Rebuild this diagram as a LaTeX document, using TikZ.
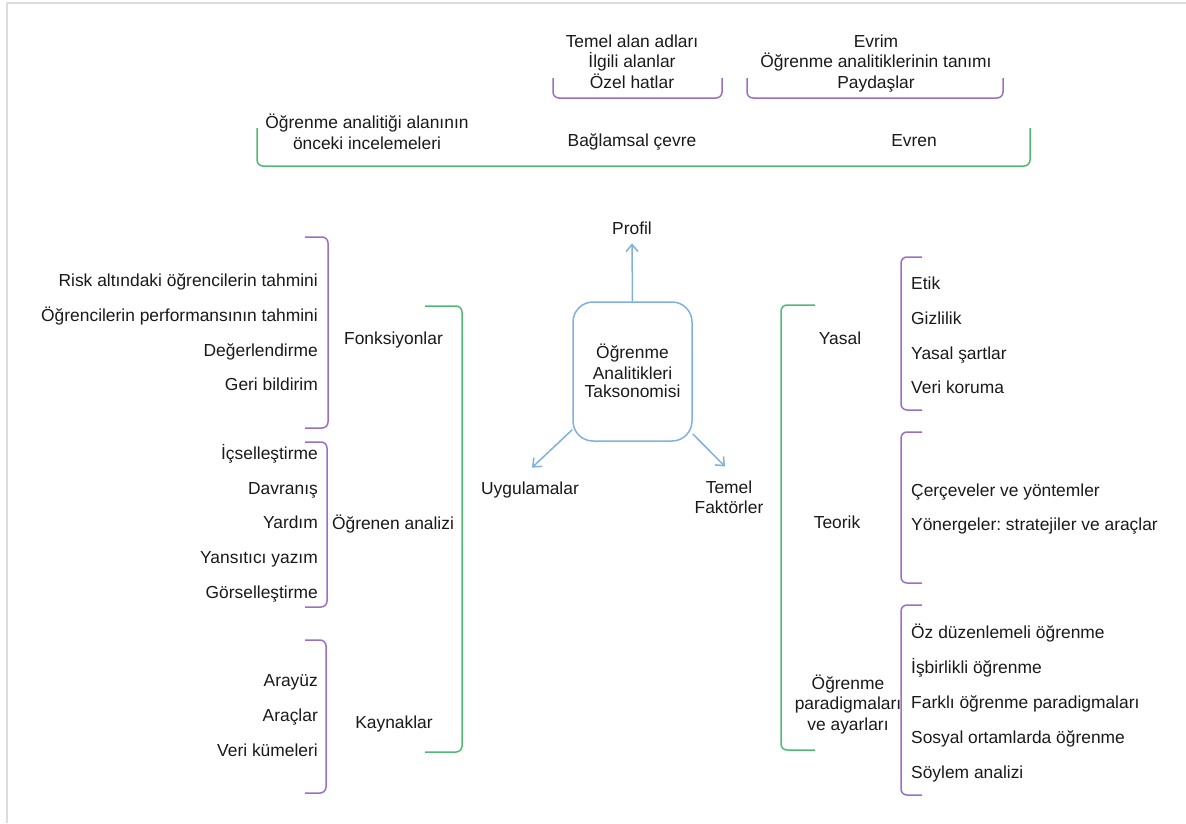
\documentclass[tikz,border=0pt]{standalone}
\usepackage{fontspec}
\setmainfont{Liberation Sans}
\usetikzlibrary{arrows.meta,calc}
\frenchspacing
\definecolor{ink}{HTML}{1A1A1A}
\definecolor{purp}{HTML}{9A70C4}
\definecolor{grn}{HTML}{4DBB74}
\definecolor{blu}{HTML}{7FB0E0}
\definecolor{frame}{HTML}{DCDCDC}
\newcommand\labelfont{\fontsize{17.4}{20.5}\selectfont}
\tikzset{
  txt/.style={font=\labelfont, text=ink, inner sep=0pt, text height=12.4pt, text depth=0pt},
  multi/.style={font=\labelfont, text=ink, inner sep=0pt, align=center},
  pbr/.style={draw=purp, line width=1.5pt, rounded corners=6pt},
  gbr/.style={draw=grn, line width=1.5pt, rounded corners=6pt},
  link/.style={draw=blu, line width=1.5pt, -{Straight Barb[length=7pt,width=12pt]}},
  corebox/.style={draw=blu, line width=1.5pt, rounded corners=20pt, inner sep=0pt,
    minimum width=119pt, minimum height=139pt, align=center, font=\fontsize{17.4}{20}\selectfont, text=ink},
}
\begin{document}
\begin{tikzpicture}[x=1pt, y=-1pt]
\useasboundingbox (0,0) rectangle (1186,823);
\fill[white] (0,0) rectangle (1186,823);
% outer frame
\draw[frame, line width=2pt] (7,823) -- (7,3) -- (1186,3);

% ---------- top: context ----------
\node[multi] (names) at (632,61.3) {Temel alan adları\\İlgili alanlar\\Özel hatlar};
\node[multi] (evol) at (876,63.2) {Evrim\\Öğrenme analitiklerinin tanımı\\Paydaşlar};
\draw[pbr] (553,78) -- (553,98) -- (722,98) -- (722,78);
\draw[pbr] (747,78) -- (747,98) -- (1003,98) -- (1003,78);

\node[multi] (prev) at (367,131.6) {Öğrenme analitiği alanının\\önceki incelemeleri};
\node[txt] (ctx) at (632,140) {Bağlamsal çevre};
\node[txt] (univ) at (914,140) {Evren};
\draw[gbr] (257,128) -- (257,166) -- (1030,166) -- (1030,128);

% ---------- centre ----------
\node[corebox] (core) at (632.5,371.5) {\raisebox{2pt}{\shortstack{Öğrenme\\[2pt]Analitikleri\\[2pt]Taksonomisi}}};
\node[txt] (profil) at (632,228) {Profil};
\node[txt] (uyg) at (530,488) {Uygulamalar};
\node[multi] (tf) at (729,497.3) {Temel\\Faktörler};
\draw[link] (core.north) -- ($(profil.south)+(0,9)$);
\draw[link] (core.224) -- ($(uyg.north)+(2,-14)$);
\draw[link] (core.314) -- ($(tf.north)+(-4,-14)$);

% ---------- left: applications ----------
\draw[gbr] (425,306) -- (462,306) -- (462,752) -- (425,752);
\node[txt] (fonk) at (393.5,338) {Fonksiyonlar};
\node[txt] (oan) at (393,523) {Öğrenen analizi};
\node[txt] (kay) at (394,722) {Kaynaklar};

\draw[pbr] (305,237) -- (328,237) -- (328,428) -- (305,428);
\node[txt, anchor=east] (f1) at (318,280) {Risk altındaki öğrencilerin tahmini};
\node[txt, anchor=east] (f2) at (318,315) {Öğrencilerin performansının tahmini};
\node[txt, anchor=east] (f3) at (318,350) {Değerlendirme};
\node[txt, anchor=east] (f4) at (318,384) {Geri bildirim};

\draw[pbr] (305,442) -- (327,442) -- (327,607) -- (305,607);
\node[txt, anchor=east] (a1) at (318,453) {İçselleştirme};
\node[txt, anchor=east] (a2) at (318,488) {Davranış};
\node[txt, anchor=east] (a3) at (318,522) {Yardım};
\node[txt, anchor=east] (a4) at (318,557) {Yansıtıcı yazım};
\node[txt, anchor=east] (a5) at (318,592) {Görselleştirme};

\draw[pbr] (305,640) -- (326,640) -- (326,793) -- (305,793);
\node[txt, anchor=east] (k1) at (318,680) {Arayüz};
\node[txt, anchor=east] (k2) at (318,715) {Araçlar};
\node[txt, anchor=east] (k3) at (318,750) {Veri kümeleri};

% ---------- right: key factors ----------
\draw[gbr] (815,305) -- (781,305) -- (781,750) -- (815,750);
\node[txt] (yasal) at (840,338) {Yasal};
\node[txt] (teorik) at (837,522) {Teorik};
\node[multi] (par) at (848,704.3) {Öğrenme\\paradigmaları\\ve ayarları};

\draw[pbr] (922,257) -- (901,257) -- (901,410) -- (922,410);
\node[txt, anchor=west] (y1) at (911,283) {Etik};
\node[txt, anchor=west] (y2) at (911,318) {Gizlilik};
\node[txt, anchor=west] (y3) at (911,353) {Yasal şartlar};
\node[txt, anchor=west] (y4) at (911,387) {Veri koruma};

\draw[pbr] (922,432) -- (901,432) -- (901,583) -- (922,583);
\node[txt, anchor=west] (t1) at (911,490) {Çerçeveler ve yöntemler};
\node[txt, anchor=west] (t2) at (911,524) {Yönergeler: stratejiler ve araçlar};

\draw[pbr] (922,605) -- (901,605) -- (901,795) -- (922,795);
\node[txt, anchor=west] (p1) at (911,632) {Öz düzenlemeli öğrenme};
\node[txt, anchor=west] (p2) at (911,667) {İşbirlikli öğrenme};
\node[txt, anchor=west] (p3) at (911,702) {Farklı öğrenme paradigmaları};
\node[txt, anchor=west] (p4) at (911,737) {Sosyal ortamlarda öğrenme};
\node[txt, anchor=west] (p5) at (911,772) {Söylem analizi};
\end{tikzpicture}
\end{document}
